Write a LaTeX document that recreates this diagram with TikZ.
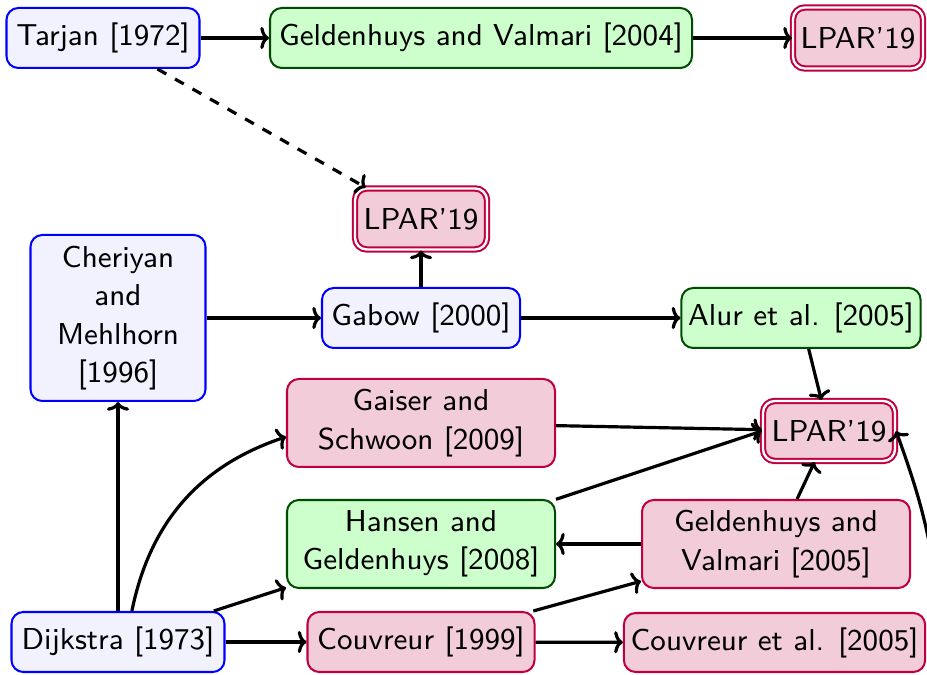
\documentclass[tikz,border=0pt]{standalone}
\usetikzlibrary{arrows.meta}
\renewcommand{\familydefault}{\sfdefault}
\begin{document}
\begin{tikzpicture}[x=0.2976pt, y=0.2976pt, font=\fontsize{9}{11.4}\selectfont\sffamily]
\tikzset{
  base/.style={rounded corners=3.5pt, semithick, align=center, inner sep=2pt},
  bluebox/.style={base, draw=blue, fill=blue!5},
  greenbox/.style={base, draw=green!30!black, fill=green!20},
  redbox/.style={base, draw=purple, fill=purple!20},
  lparbox/.style={redbox, double, double distance=0.7pt},
  sz/.style 2 args={minimum width=#1*0.2976pt, minimum height=#2*0.2976pt},
  link/.style={-{To[width=6.6pt, length=2.6pt]}, line width=0.95pt}
}
\useasboundingbox[fill=white] (0,0) rectangle (927,-675);

% nodes
\node[bluebox, sz={193}{60}] (tarjan) at (103,-38) {Tarjan [1972]};
\node[greenbox, sz={422}{60}] (geld04) at (481,-38) {Geldenhuys and Valmari [2004]};
\node[lparbox, sz={130}{61}] (lparA) at (858,-38) {LPAR'19};

\node[lparbox, sz={132}{61}] (lparB) at (421,-219) {LPAR'19};

\node[bluebox, sz={175}{166}] (cher) at (118,-318) {Cheriyan\\and\\Mehlhorn\\{[1996]}};
\node[bluebox, sz={198}{60}] (gabow) at (421,-318) {Gabow [2000]};
\node[greenbox, sz={239}{60}] (alur) at (801,-318) {Alur et al. [2005]};

\node[redbox, sz={268}{88}] (gaiser) at (421,-423) {Gaiser and\\Schwoon [2009]};
\node[lparbox, sz={132}{60}] (lparC) at (829,-431) {LPAR'19};

\node[greenbox, sz={268}{88}] (hansen) at (421,-544) {Hansen and\\Geldenhuys [2008]};
\node[redbox, sz={268}{88}] (geld05) at (776,-544) {Geldenhuys and\\Valmari [2005]};

\node[bluebox, sz={213}{60}] (dijkstra) at (118,-642) {Dijkstra [1973]};
\node[redbox, sz={227}{60}] (couv99) at (421,-642) {Couvreur [1999]};
\node[redbox, sz={301}{59}] (couv05) at (774.5,-642.5) {Couvreur et al. [2005]};

% connectors
\draw[link] (tarjan) -- (geld04);
\draw[link] (geld04) -- (lparA);
\draw[link, dashed] (tarjan) -- (lparB);
\draw[link] (gabow) -- (lparB);
\draw[link] (cher) -- (gabow);
\draw[link] (gabow) -- (alur);
\draw[link] (alur) -- (lparC);
\draw[link] (gaiser) -- (lparC);
\draw[link] (hansen) -- (lparC.west);
\draw[link] (geld05) -- (lparC);
\draw[link] (geld05) -- (hansen);
\draw[link] (dijkstra) -- (cher);
\draw[link] (dijkstra) to[bend left] (gaiser);
\draw[link] (dijkstra) -- (hansen);
\draw[link] (dijkstra) -- (couv99);
\draw[link] (couv99) -- (geld05);
\draw[link] (couv99) -- (couv05);
\draw[link] ([xshift=4pt]couv05.east) to[out=92, in=-70] (lparC.east);
\end{tikzpicture}
\end{document}
